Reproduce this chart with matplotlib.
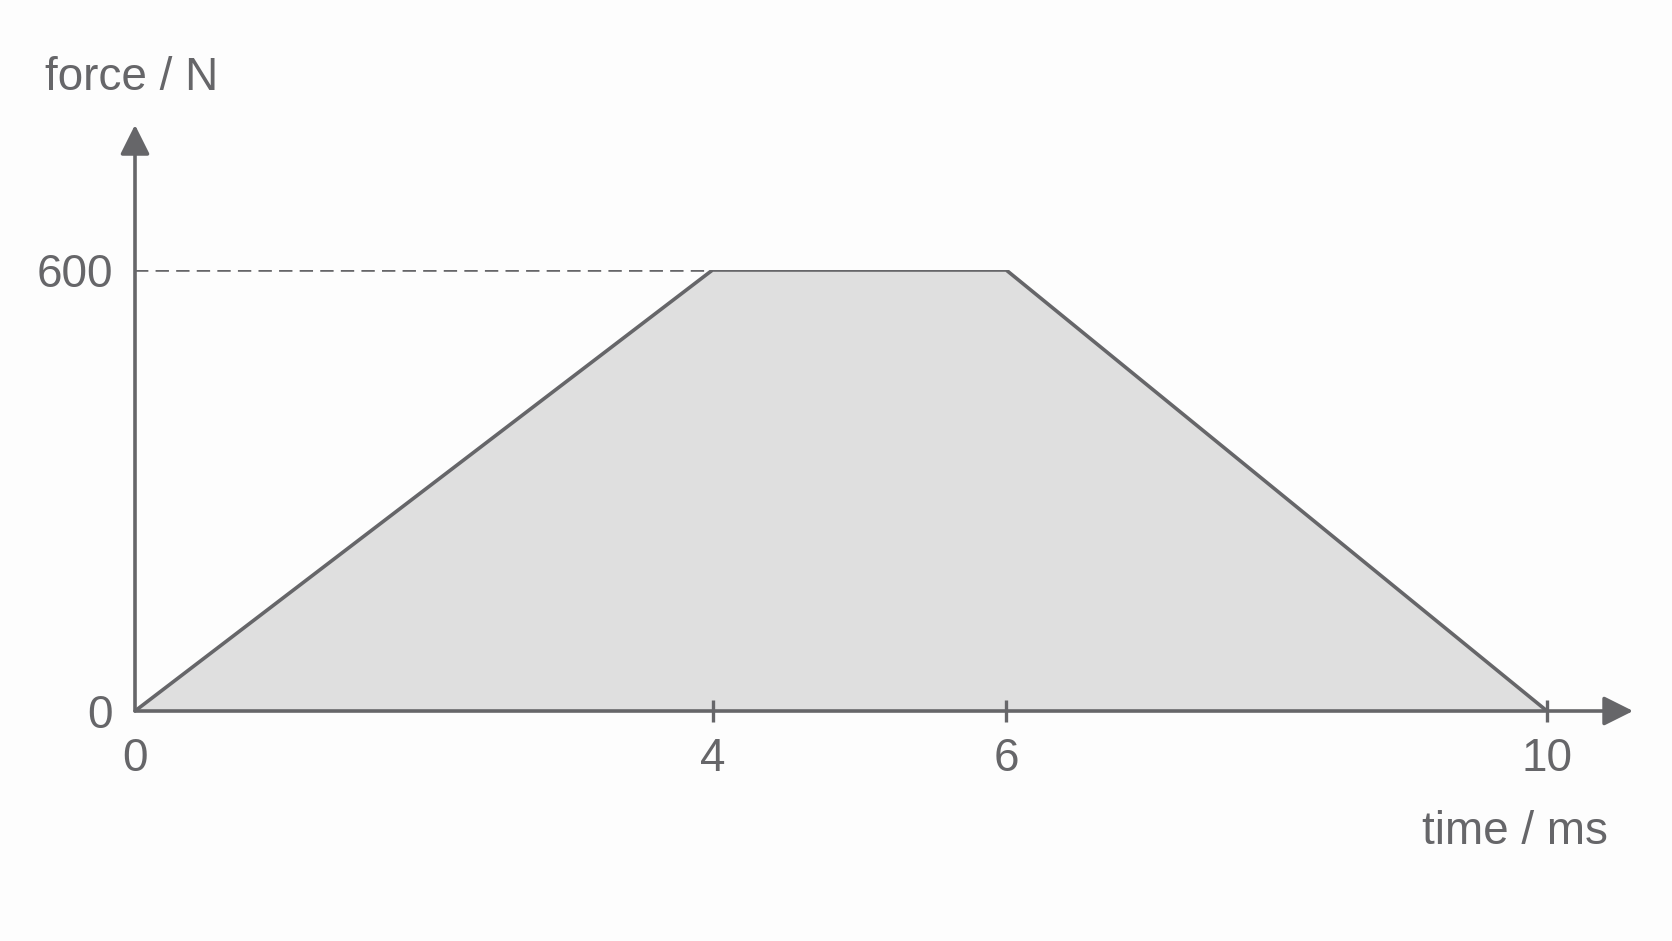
import numpy as np
import matplotlib
matplotlib.use("Agg")
import matplotlib.pyplot as plt

# force-time profile (trapezium)
time_ms = [0, 4, 6, 10]
force_n = [0, 600, 600, 0]
x_ticks = [0, 4, 6, 10]
y_ticks = [0, 600]

# the sketch is not drawn exactly to scale: where each tick sits on the axis
drawn_at = [0, 4.09, 6.17, 10]

grey = "#666669"
fill_grey = "#dfdfdf"
bg = "#fdfdfd"

plt.rcParams["font.family"] = ["Liberation Sans", "DejaVu Sans"]

fig = plt.figure(figsize=(16.72, 9.41), dpi=100, facecolor=bg)
ax = fig.add_axes([135 / 1672, (941 - 711) / 941, (1547 - 135) / 1672, (711 - 270) / 941])
ax.set_facecolor(bg)

ax.set_xscale("function", functions=(lambda v: np.interp(v, time_ms, drawn_at),
                                     lambda v: np.interp(v, drawn_at, time_ms)))
ax.set_xlim(0, 10)
ax.set_ylim(0, 600)

# area + outline
ax.fill_between(time_ms, force_n, 0, color=fill_grey, linewidth=0, zorder=1)
ax.plot(time_ms, force_n, color=grey, lw=2.6, solid_joinstyle="miter", zorder=3)

# dashed guide at the peak value
ax.plot([0, time_ms[1]], [force_n[1], force_n[1]], color=grey, lw=2.6,
        dashes=(3.7, 2.0), zorder=2)

for s in ax.spines.values():
    s.set_visible(False)

# axes with arrow heads
arrow = dict(arrowstyle="-|>,head_length=1,head_width=0.5", mutation_scale=18,
             color=grey, lw=2.6, shrinkA=0, shrinkB=0)
ax.annotate("", xy=(1.061, 0), xytext=(0, 0), xycoords="axes fraction",
            textcoords="axes fraction", arrowprops=arrow, annotation_clip=False, zorder=4)
ax.annotate("", xy=(0, 1.329), xytext=(0, 0), xycoords="axes fraction",
            textcoords="axes fraction", arrowprops=arrow, annotation_clip=False, zorder=4)

# ticks
ax.set_xticks(x_ticks)
ax.set_xticklabels([str(v) for v in x_ticks])
ax.set_yticks(y_ticks)
ax.set_yticklabels([str(v) for v in y_ticks])
ax.tick_params(axis="x", direction="inout", length=16, width=2.4, color=grey,
               labelcolor=grey, labelsize=33, pad=11)
ax.tick_params(axis="y", length=0, labelcolor=grey, labelsize=33, pad=16)
ax.xaxis.get_major_ticks()[0].tick1line.set_visible(False)
ax.minorticks_off()

# axis titles
fig.text(45 / 1672, 1 - 78 / 941, "force / N", color=grey, fontsize=33,
         ha="left", va="center")
fig.text(1608 / 1672, 1 - 832 / 941, "time / ms", color=grey, fontsize=33,
         ha="right", va="center")

fig.savefig("out.png", dpi=100, facecolor=bg)
